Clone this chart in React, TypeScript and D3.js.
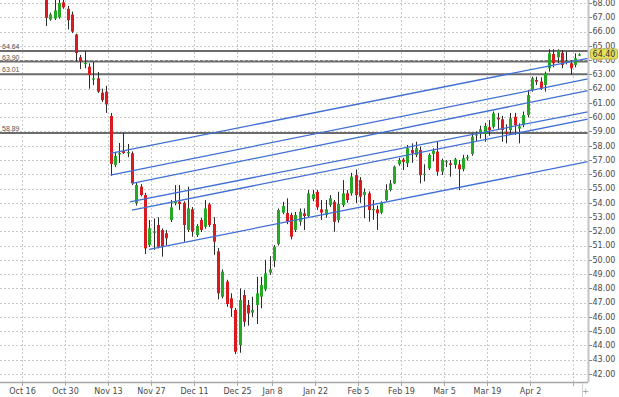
import * as d3 from "d3";

// candles, one per trading day from Oct 23 (index 0) to Apr 17 (index 124)
const opens = [
  68.5, 66.85, 66.92, 67.0, 68.05, 67.6, 67.2, 65.8, 64.2, 63.75,
  63.54, 62.66, 62.73, 61.72, 61.79, 60.08, 56.65, 57.4, 57.63, 57.5,
  57.47, 53.96, 55.13, 54.54, 51.04, 51.9, 52.44, 52.09, 51.86, 52.79,
  53.96, 54.07, 54.0, 52.09, 53.54, 51.74, 52.79, 52.32, 53.89, 52.51,
  50.59, 47.41, 48.47, 47.3, 46.48, 44.02, 47.53, 46.83, 46.3, 46.83,
  47.41, 47.93, 49.1, 49.93, 51.1, 53.31, 53.28, 53.14, 52.09, 52.67,
  53.26, 53.07, 54.26, 54.77, 53.54, 53.14, 53.84, 54.07, 52.79, 53.84,
  54.66, 54.66, 55.94, 55.59, 54.54, 54.66, 53.5, 53.54, 53.31, 54.19,
  54.89, 55.36, 56.71, 57.03, 56.77, 57.7, 57.35, 57.7, 55.98, 56.41,
  57.42, 57.58, 56.18, 56.85, 56.77, 56.65, 56.69, 56.35, 57.12, 57.42,
  58.75, 58.91, 58.82, 59.3, 59.33, 59.96, 59.85, 58.98, 59.1, 60.03,
  59.2, 59.45, 60.15, 61.91, 62.61, 62.49, 62.26, 63.43, 64.43, 64.2,
  64.52, 63.88, 63.78, 63.66, 64.4,
];
const highs = [
  69.0, 67.33, 68.3, 68.4, 68.4, 67.8, 67.4, 65.85, 64.36, 64.66,
  63.78, 63.89, 63.17, 62.0, 62.2, 60.3, 57.56, 58.19, 58.9, 58.12,
  57.6, 55.4, 55.3, 54.7, 52.79, 52.9, 52.98, 52.2, 52.09, 54.19,
  55.24, 55.24, 54.1, 55.13, 53.7, 52.5, 52.93, 54.19, 54.0, 52.99,
  50.83, 49.33, 48.6, 47.65, 46.62, 47.99, 47.88, 47.18, 47.41, 48.81,
  48.81, 50.0, 50.25, 51.03, 53.6, 54.07, 54.31, 53.3, 53.35, 53.6,
  53.6, 54.89, 54.89, 54.89, 54.19, 54.19, 54.54, 54.19, 54.77, 55.59,
  54.9, 56.1, 56.34, 55.8, 55.0, 54.8, 54.19, 53.8, 54.1, 55.3,
  55.6, 56.6, 57.15, 57.15, 58.05, 58.17, 58.28, 57.93, 56.7, 57.47,
  57.82, 58.28, 57.1, 57.0, 57.0, 57.15, 57.0, 57.36, 57.36, 58.87,
  59.0, 59.4, 59.6, 59.8, 60.4, 60.3, 60.1, 59.5, 60.3, 60.3,
  59.57, 60.4, 61.9, 62.84, 62.84, 62.8, 63.2, 64.76, 64.76, 64.76,
  64.7, 64.62, 64.0, 64.48, 64.48,
];
const lows = [
  66.4, 66.76, 66.81, 66.9, 67.6, 66.15, 65.9, 63.9, 63.38, 63.43,
  62.0, 62.25, 61.7, 61.06, 60.3, 55.9, 56.5, 56.79, 57.42, 57.2,
  55.24, 53.8, 54.45, 50.4, 50.9, 50.7, 50.8, 50.22, 51.0, 52.65,
  53.82, 53.49, 51.27, 51.95, 51.62, 51.6, 51.95, 52.18, 52.3, 50.35,
  47.23, 47.3, 46.7, 46.0, 43.39, 43.48, 45.31, 45.38, 46.0, 45.5,
  46.6, 47.8, 48.95, 49.49, 51.0, 53.2, 52.5, 51.43, 51.95, 52.4,
  52.09, 52.95, 54.1, 53.5, 52.79, 52.95, 53.7, 51.97, 52.6, 53.7,
  54.0, 54.5, 53.98, 54.0, 52.91, 52.67, 52.8, 52.09, 53.2, 54.1,
  54.8, 55.3, 56.6, 56.29, 56.5, 56.8, 57.2, 55.36, 55.5, 56.3,
  56.9, 55.9, 55.94, 56.5, 55.83, 56.4, 54.89, 56.2, 56.95, 57.3,
  58.3, 58.5, 58.28, 58.7, 59.2, 59.1, 58.28, 58.17, 58.9, 58.75,
  58.17, 59.3, 60.0, 61.79, 62.26, 61.91, 61.79, 63.2, 63.5, 63.8,
  63.43, 63.7, 62.96, 63.5, 64.3,
];
const closes = [
  66.97, 67.2, 67.48, 68.0, 67.7, 66.8, 66.0, 64.5, 63.9, 63.8,
  62.96, 62.72, 61.79, 61.2, 60.9, 56.72, 57.27, 57.48, 57.49, 57.56,
  55.36, 55.24, 54.54, 50.8, 52.21, 51.98, 50.92, 50.92, 51.51, 53.68,
  54.07, 53.92, 52.44, 53.6, 51.97, 52.37, 52.09, 53.6, 52.44, 51.27,
  47.65, 49.17, 46.9, 46.6, 43.55, 47.18, 45.66, 46.24, 46.48, 47.65,
  48.23, 49.05, 49.33, 50.91, 53.49, 53.77, 52.65, 51.62, 53.14, 53.37,
  53.07, 54.66, 54.61, 53.68, 53.31, 53.54, 54.31, 52.67, 53.91, 54.66,
  54.19, 55.83, 54.54, 54.43, 54.77, 53.49, 53.56, 53.26, 54.0, 54.89,
  55.36, 56.53, 56.99, 56.87, 57.82, 57.47, 57.82, 55.94, 56.03, 57.35,
  57.65, 56.18, 56.99, 56.92, 56.65, 57.05, 56.35, 57.12, 57.19, 58.63,
  58.8, 59.15, 59.38, 59.1, 60.27, 59.85, 59.1, 58.82, 59.92, 59.45,
  59.35, 60.15, 61.55, 62.73, 62.49, 62.02, 63.08, 64.48, 63.78, 64.66,
  63.66, 63.92, 63.43, 64.13, 64.4,
];

// date axis: label and candle index of the day it marks
const dateLabels = ["Oct 16", "Oct 30", "Nov 13", "Nov 27", "Dec 11", "Dec 25", "Jan 8", "Jan 22", "Feb 5", "Feb 19", "Mar 5", "Mar 19", "Apr 2", ""];
const dateIndex = [-5, 5, 15, 25, 35, 45, 53, 63, 73, 83, 93, 103, 113, 123];

const priceTicks = [42, 43, 44, 45, 46, 47, 48, 49, 50, 51, 52, 53, 54, 55, 56, 57, 58, 59, 60, 61, 62, 63, 64, 65, 66, 67, 68];

// horizontal levels
const levelValues = [64.64, 63.9, 63.01, 58.89];
const dashedLevel = 64.04;
const lastPrice = 64.4;

// parallel trend lines: start (index, price) -> end (index, price)
const trendStartIdx = [15, 15, 20, 19.5, 20, 24];
const trendStartPrice = [57.47, 55.94, 55.36, 54.07, 53.49, 50.73];
const trendEndIdx = [126, 126, 126, 126, 126, 126];
const trendEndPrice = [64.13, 62.68, 61.86, 60.38, 59.87, 56.88];

const W = 619;
const H = 397;
const plotRight = 588;
const plotBottom = 382;
const font = "DejaVu Sans, Verdana, sans-serif";

export default function App() {
  const x = d3.scaleLinear().domain([0, 124]).range([46, 579.2]);
  const step = x(1) - x(0);
  const y = d3.scaleLinear().domain([42, 68]).range([373.9, 3.1]);
  const cx = (i: number) => Math.round(x(i)) + 0.5;
  const gx = (i: number) => Math.round(x(i) - step / 2) + 0.5;
  const py = (v: number) => Math.round(y(v)) + 0.5;

  return (
    <svg
      width={W}
      height={H}
      style={{ position: "fixed", left: 0, top: 0, background: "#fff" }}
    >
      <defs>
        <clipPath id="plot">
          <rect x={0} y={0} width={plotRight} height={plotBottom} />
        </clipPath>
      </defs>
      <rect x={0} y={0} width={W} height={H} fill="#fff" />

      {/* grid */}
      <g stroke="#c9c9c9" strokeWidth={1} strokeDasharray="2,2">
        {priceTicks.map((v) => (
          <line key={"h" + v} x1={0} x2={plotRight} y1={py(v)} y2={py(v)} />
        ))}
        {dateIndex.map((k) => (
          <line key={"v" + k} x1={gx(k)} x2={gx(k)} y1={0} y2={plotBottom} />
        ))}
      </g>

      {/* levels */}
      <g clipPath="url(#plot)">
        <line x1={0} x2={plotRight} y1={py(dashedLevel)} y2={py(dashedLevel)} stroke="#8a8a8a" strokeDasharray="3,2" />
        {levelValues.map((v) => (
          <line key={v} x1={0} x2={plotRight} y1={y(v)} y2={y(v)} stroke="#6b6b6b" strokeWidth={1.8} />
        ))}
      </g>

      {/* candles */}
      <g clipPath="url(#plot)">
        {opens.map((o, i) => {
          const c = closes[i];
          const up = c >= o;
          const top = y(Math.max(o, c));
          const bot = y(Math.min(o, c));
          return (
            <g key={i}>
              <line x1={cx(i)} x2={cx(i)} y1={y(highs[i])} y2={y(lows[i])} stroke="#2b2b2b" strokeWidth={1} />
              <rect
                x={Math.round(x(i)) - 1}
                y={top}
                width={3}
                height={Math.max(1.2, bot - top)}
                fill={up ? "#25a825" : "#d81b1f"}
              />
            </g>
          );
        })}
      </g>

      {/* trend lines */}
      <g clipPath="url(#plot)" stroke="#3f6fd4" strokeWidth={1.3}>
        {trendStartIdx.map((s, i) => (
          <line
            key={i}
            x1={x(s)}
            y1={y(trendStartPrice[i])}
            x2={x(trendEndIdx[i])}
            y2={y(trendEndPrice[i])}
          />
        ))}
      </g>

      {/* axes */}
      <line x1={plotRight + 0.5} x2={plotRight + 0.5} y1={0} y2={plotBottom} stroke="#c4c4c4" strokeWidth={2} />
      <line x1={0} x2={plotRight} y1={plotBottom + 0.5} y2={plotBottom + 0.5} stroke="#a8a8a8" strokeWidth={1.5} />

      <g fontFamily={font} fontSize={8} fill="#4a4a4a">
        {priceTicks.map((v) => (
          <g key={v}>
            <line x1={plotRight + 1} x2={plotRight + 4} y1={py(v)} y2={py(v)} stroke="#888" />
            <text x={592.5} y={y(v)} dy="0.35em">
              {v.toFixed(2)}
            </text>
          </g>
        ))}
        {dateIndex.map((k, i) => (
          <g key={k}>
            <line x1={gx(k)} x2={gx(k)} y1={plotBottom} y2={plotBottom + 4} stroke="#aaa" />
            <text x={gx(k)} y={393.5} textAnchor="middle">
              {dateLabels[i]}
            </text>
          </g>
        ))}
      </g>

      {/* level labels */}
      <g fontFamily="Liberation Sans, Arial, sans-serif" fontSize={7} fill="#555">
        {levelValues.map((v) => (
          <text key={v} x={2} y={y(v) - 2}>
            {v.toFixed(2)}
          </text>
        ))}
      </g>

      {/* last price */}
      <rect x={590.5} y={y(lastPrice) - 5.5} width={27} height={10} rx={2} fill="#e5e05c" stroke="#b9b347" />
      <text x={604} y={y(lastPrice)} dy="0.35em" textAnchor="middle" fontFamily={font} fontSize={8} fill="#333">
        {lastPrice.toFixed(2)}
      </text>

      {/* zoom control */}
      <line x1={582.5} x2={582.5} y1={plotBottom + 1} y2={H} stroke="#d0d0d0" />
      <text x={585.5} y={393.5} textAnchor="middle" fontFamily={font} fontSize={8} fill="#999">
        +
      </text>
    </svg>
  );
}
